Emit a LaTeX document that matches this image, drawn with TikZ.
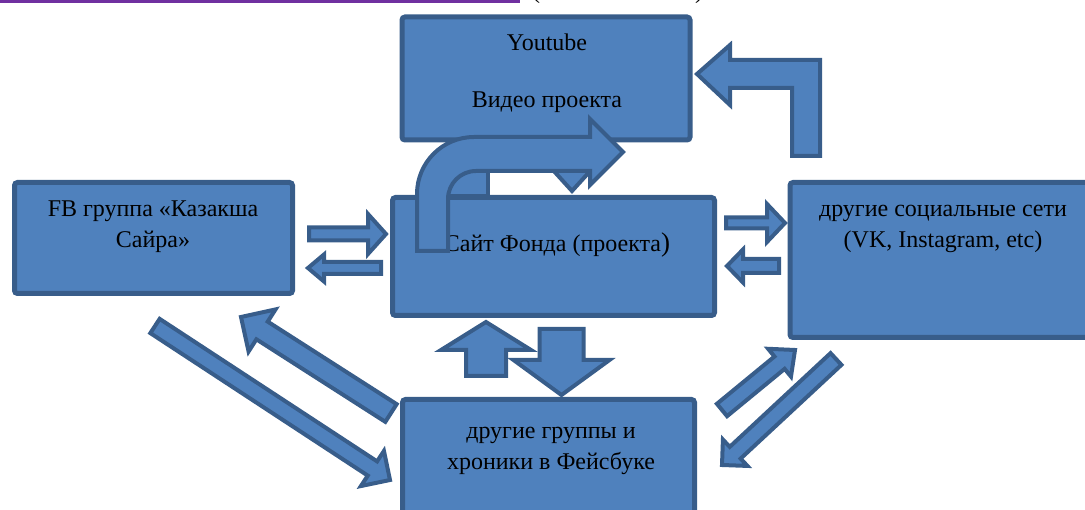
\documentclass[tikz,border=0pt]{standalone}
\usepackage{fontspec}
\setmainfont{Liberation Serif}
\usetikzlibrary{calc}
\definecolor{boxfill}{HTML}{4F81BD}
\definecolor{boxline}{HTML}{385D8A}
\definecolor{topline}{HTML}{7030A0}
\tikzset{
  box/.style 2 args={draw=boxline,fill=boxfill,line width=5pt,rounded corners=3pt,
    minimum width=#1,minimum height=#2,inner sep=0pt},
  barrow/.style={draw=boxline,fill=boxfill,line width=4pt,line join=miter},
  lbl/.style={font=\fontsize{24}{31}\selectfont,inner sep=0pt,align=center}
}
% tail, tip, half shaft, half head, head length
\newcommand{\blockarrow}[5]{%
  \coordinate (hb) at ($(#2)!#5!(#1)$);
  \draw[barrow] ($(#1)!#3!90:(#2)$) -- ($(hb)!#3!90:(#2)$) -- ($(hb)!#4!90:(#2)$)
    -- (#2) -- ($(hb)!#4!-90:(#2)$) -- ($(hb)!#3!-90:(#2)$) -- ($(#1)!#3!-90:(#2)$) -- cycle;
}
\begin{document}
\begin{tikzpicture}[x=1pt,y=-1pt]
    \useasboundingbox (0,0) rectangle (1085,510);
    \draw[topline,line width=3pt] (0,1.5)--(520,1.5);
    \node[lbl,anchor=base] (lp) at (536,-1) {(};
    \node[lbl,anchor=base] (rp) at (699,-1) {)};

    \node[box={288pt}{123pt}] (yt) at (546,78.5) {};
    \node[box={278pt}{111pt}] (fb) at (153.5,238) {};
    \node[box={322pt}{118pt}] (site) at (553.5,256.5) {};
    \node[box={302pt}{155pt}] (soc) at (941,260) {};
    \node[box={292pt}{121pt}] (fbo) at (548.5,460) {};

    \node[lbl,anchor=base] (yt1) at (547,51) {Youtube};
    \node[lbl,anchor=base] (yt2) at (547,108) {Видео проекта};
    \node[lbl,anchor=base] (fbt) at (153,248) {FB группа «Казакша\\Сайра»};
    \node[lbl,anchor=base] (sitet) at (557,252) {Сайт Фонда (проекта{\fontsize{27}{31}\selectfont)}};
    \node[lbl,anchor=base] (soct) at (943,248) {другие социальные сети\\(VK, Instagram, etc)};
    \node[lbl,anchor=base] (fbot) at (551,470) {другие группы и\\хроники в Фейсбуке};

    \coordinate (a1) at (309,234);   \coordinate (b1) at (386,234);
    \coordinate (a2) at (381,268);   \coordinate (b2) at (308,268);
    \coordinate (a3) at (726,223);   \coordinate (b3) at (785,223);
    \coordinate (a4) at (779,266);   \coordinate (b4) at (727,266);
    \coordinate (a5) at (486,376);   \coordinate (b5) at (486,322);
    \coordinate (a6) at (561.5,329); \coordinate (b6) at (561.5,395);
    \coordinate (a7) at (155,326);   \coordinate (b7) at (390,480);
    \coordinate (a8) at (391,413);   \coordinate (b8) at (241,317);
    \coordinate (a9) at (722,410);   \coordinate (b9) at (795,350);
    \coordinate (a10) at (836,359);  \coordinate (b10) at (722,465);
    \coordinate (a11) at (572,145);  \coordinate (b11) at (572,191);

    \blockarrow{a1}{b1}{6.5pt}{20pt}{18pt}
    \blockarrow{a2}{b2}{6pt}{13.5pt}{16pt}
    \blockarrow{a3}{b3}{5.5pt}{19pt}{18pt}
    \blockarrow{a4}{b4}{7pt}{16.5pt}{16pt}
    \blockarrow{a5}{b5}{20pt}{45pt}{28pt}
    \blockarrow{a6}{b6}{22pt}{48pt}{35pt}
    \blockarrow{a7}{b7}{8.5pt}{21pt}{21pt}
    \blockarrow{a8}{b8}{10.5pt}{25pt}{25pt}
    \blockarrow{a9}{b9}{8pt}{18pt}{20pt}
    \blockarrow{a10}{b10}{8pt}{18pt}{18pt}
    \blockarrow{a11}{b11}{12pt}{20pt}{22pt}

    % bent arrows
    \draw[barrow] (445,150) rectangle (488,196);
    \draw[barrow] (417,251)--(417,194) arc[start angle=180,end angle=90,radius=57pt]
        --(590,137)--(590,119)--(623,152)--(590,185)--(590,171)--(476,171)
        arc[start angle=90,end angle=180,radius=28pt]--(448,251)--cycle;
    \draw[barrow] (820,156)--(820,60)--(730,60)--(730,45)--(697,74)--(730,105)
        --(730,88)--(792,88)--(792,156)--cycle;
\end{tikzpicture}
\end{document}
